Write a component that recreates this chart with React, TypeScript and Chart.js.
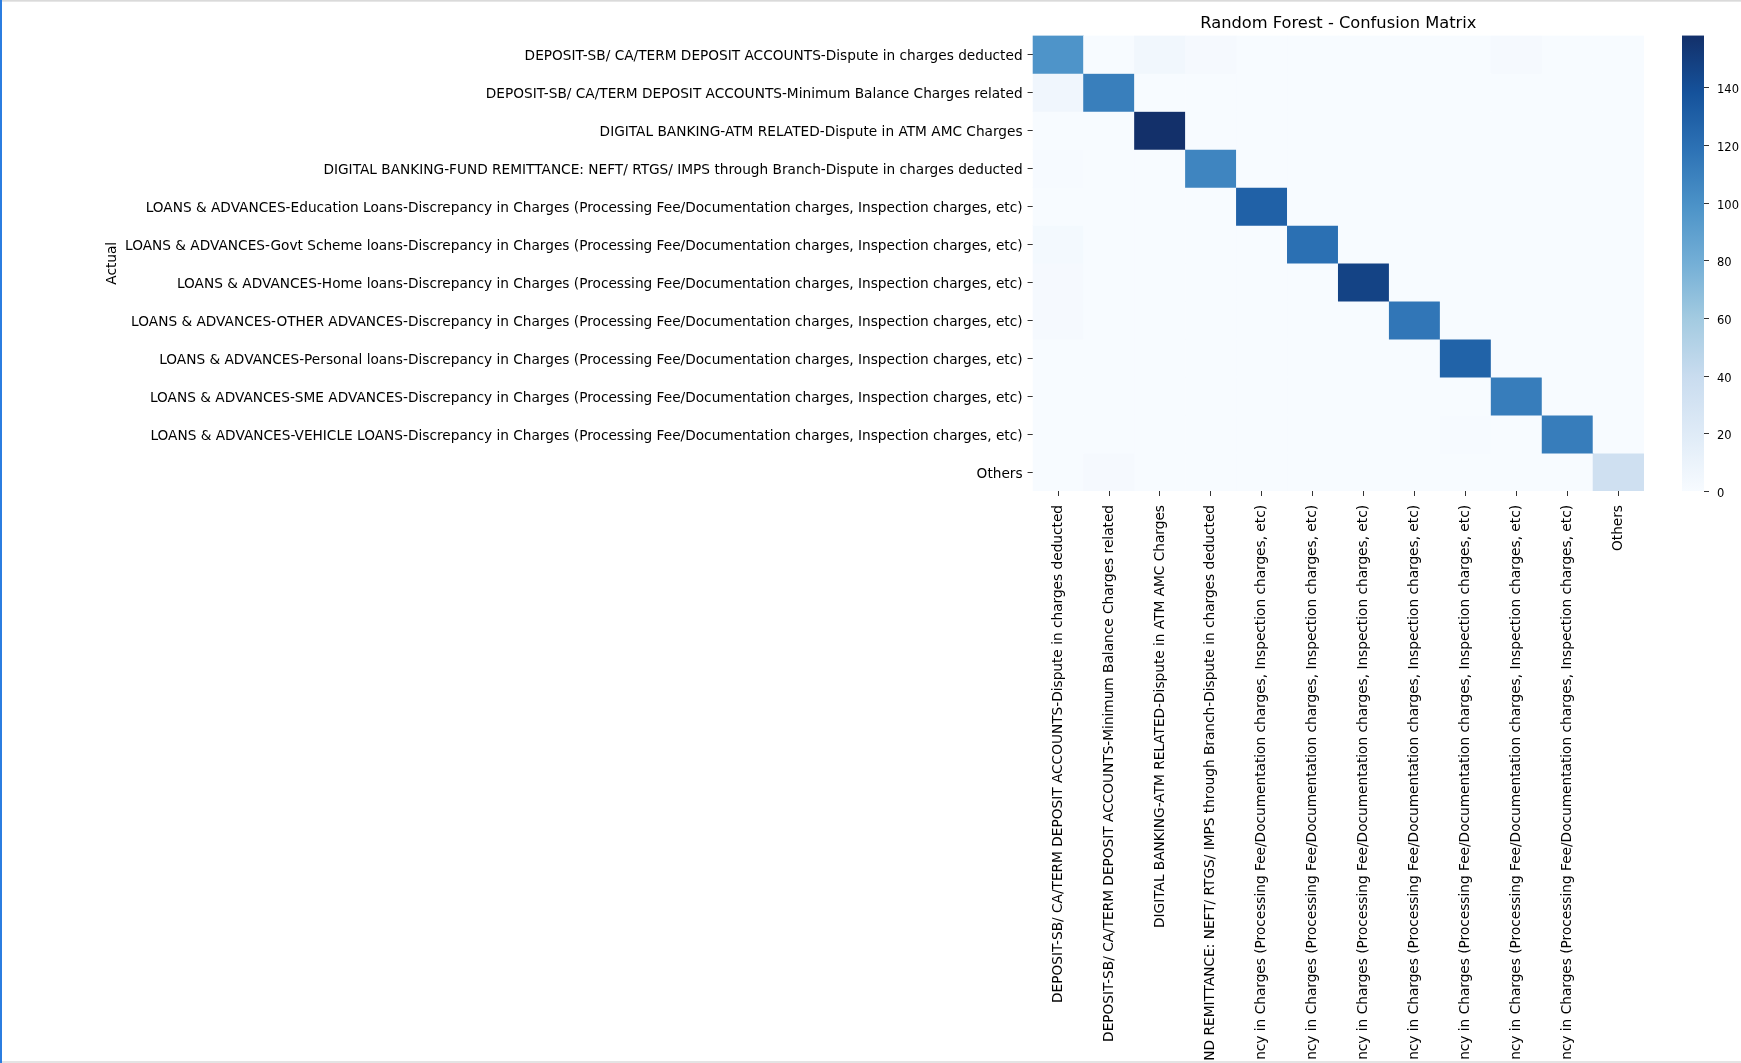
import React, { useEffect, useRef } from 'react';
import { Chart, registerables } from 'chart.js';

Chart.register(...registerables);

const classLabels = [
  'DEPOSIT-SB/ CA/TERM DEPOSIT ACCOUNTS-Dispute in charges deducted',
  'DEPOSIT-SB/ CA/TERM DEPOSIT ACCOUNTS-Minimum Balance Charges related',
  'DIGITAL BANKING-ATM RELATED-Dispute in ATM AMC Charges',
  'DIGITAL BANKING-FUND REMITTANCE: NEFT/ RTGS/ IMPS through Branch-Dispute in charges deducted',
  'LOANS & ADVANCES-Education Loans-Discrepancy in Charges (Processing Fee/Documentation charges, Inspection charges, etc)',
  'LOANS & ADVANCES-Govt Scheme loans-Discrepancy in Charges (Processing Fee/Documentation charges, Inspection charges, etc)',
  'LOANS & ADVANCES-Home loans-Discrepancy in Charges (Processing Fee/Documentation charges, Inspection charges, etc)',
  'LOANS & ADVANCES-OTHER ADVANCES-Discrepancy in Charges (Processing Fee/Documentation charges, Inspection charges, etc)',
  'LOANS & ADVANCES-Personal loans-Discrepancy in Charges (Processing Fee/Documentation charges, Inspection charges, etc)',
  'LOANS & ADVANCES-SME ADVANCES-Discrepancy in Charges (Processing Fee/Documentation charges, Inspection charges, etc)',
  'LOANS & ADVANCES-VEHICLE LOANS-Discrepancy in Charges (Processing Fee/Documentation charges, Inspection charges, etc)',
  'Others',
];

// Confusion-matrix rows (actual class), columns = predicted class
const rowDepositDispute = [98, 0, 5, 2, 0, 0, 0, 0, 0, 2, 0, 0];
const rowDepositMinBal = [6, 111, 0, 0, 0, 0, 0, 0, 0, 0, 0, 0];
const rowAtm = [0, 0, 158, 0, 0, 0, 0, 0, 0, 0, 0, 0];
const rowFundRemit = [1, 0, 0, 107, 0, 0, 0, 0, 0, 0, 0, 0];
const rowEducation = [0, 0, 0, 0, 129, 0, 0, 0, 0, 0, 0, 0];
const rowGovt = [3, 0, 0, 0, 0, 120, 0, 0, 0, 0, 0, 0];
const rowHome = [2, 0, 0, 0, 0, 0, 147, 0, 0, 0, 0, 0];
const rowOther = [2, 0, 0, 0, 0, 0, 0, 116, 0, 0, 0, 0];
const rowPersonal = [0, 0, 0, 0, 0, 0, 0, 0, 128, 0, 0, 0];
const rowSme = [0, 0, 0, 0, 0, 0, 0, 0, 0, 112, 0, 0];
const rowVehicle = [0, 0, 0, 0, 0, 0, 0, 0, 1, 0, 112, 0];
const rowOthers = [0, 2, 0, 0, 0, 0, 0, 0, 0, 0, 0, 34];

const matrixRows = [
  rowDepositDispute, rowDepositMinBal, rowAtm, rowFundRemit, rowEducation, rowGovt,
  rowHome, rowOther, rowPersonal, rowSme, rowVehicle, rowOthers,
];

const colorbarTicks = [0, 20, 40, 60, 80, 100, 120, 140];
const colorMax = 158;

const chartTitle = 'Random Forest - Confusion Matrix';
const yTitle = 'Actual';

// "Blues" colormap anchors (as rendered in the reference picture)
const BLUES = ['#f7fbff', '#dfebf7', '#c9dcef', '#a4cbe1', '#74afd6', '#4c93c8', '#2d72b5', '#15529b', '#13306a'];

function hexToRgb(h: string) {
  const n = parseInt(h.slice(1), 16);
  return [(n >> 16) & 255, (n >> 8) & 255, n & 255];
}

function blues(t: number) {
  const c = Math.max(0, Math.min(1, t)) * (BLUES.length - 1);
  const i = Math.min(Math.floor(c), BLUES.length - 2);
  const f = c - i;
  const a = hexToRgb(BLUES[i]);
  const b = hexToRgb(BLUES[i + 1]);
  const m = a.map((v, k) => Math.round(v + (b[k] - v) * f));
  return `rgb(${m[0]},${m[1]},${m[2]})`;
}

const FONT = 'DejaVu Sans';
const TEXT = '#000000';
const TICK = '#333333';
const LABEL_SIZE = 13.7;

const colorbarPlugin = {
  id: 'colorbar',
  afterDraw(chart: any) {
    const cb = chart.scales.cb;
    const ctx = chart.ctx;
    const x0 = chart.chartArea.right + 38;
    const w = 22;
    const yTop = cb.getPixelForValue(colorMax);
    const yBot = cb.getPixelForValue(0);
    const g = ctx.createLinearGradient(0, yBot, 0, yTop);
    BLUES.forEach((c, i) => g.addColorStop(i / (BLUES.length - 1), c));
    ctx.save();
    ctx.fillStyle = g;
    ctx.fillRect(x0, yTop, w, yBot - yTop);
    ctx.strokeStyle = TICK;
    ctx.lineWidth = 1;
    ctx.fillStyle = TEXT;
    ctx.font = `11.5px "${FONT}"`;
    ctx.textAlign = 'left';
    ctx.textBaseline = 'middle';
    cb.ticks.forEach((t: any) => {
      const yp = cb.getPixelForValue(t.value);
      const y = Math.round(yp) + 0.5;
      ctx.beginPath();
      ctx.moveTo(x0 + w, y);
      ctx.lineTo(x0 + w + 5, y);
      ctx.stroke();
      ctx.fillText(String(t.value), x0 + w + 13, yp + 3);
    });
    ctx.restore();
  },
};

export default function App() {
  const ref = useRef<HTMLCanvasElement | null>(null);

  useEffect(() => {
    if (!ref.current) return;
    const datasets = matrixRows.map((row, r) => ({
      label: classLabels[r],
      data: row.map(() => [r, r + 1]),
      backgroundColor: row.map((v) => blues(v / colorMax)),
      borderWidth: 0,
      grouped: false,
      barPercentage: 1,
      categoryPercentage: 1,
    }));

    const chart = new Chart(ref.current, {
      type: 'bar',
      data: { labels: classLabels, datasets: datasets as any },
      plugins: [colorbarPlugin],
      options: {
        responsive: false,
        animation: false,
        events: [],
        layout: { padding: 0, autoPadding: false },
        plugins: {
          legend: { display: false },
          tooltip: { enabled: false },
          title: {
            display: true,
            text: chartTitle,
            fullSize: false,
            color: TEXT,
            font: { family: FONT, size: 16.3, weight: 'normal' },
            padding: { top: 13.5, bottom: 2.5 },
          },
        },
        scales: {
          x: {
            type: 'category',
            position: 'bottom',
            offset: true,
            grid: { display: true, drawOnChartArea: false, drawTicks: true, tickLength: 5, color: TICK, offset: false },
            border: { display: false },
            ticks: {
              autoSkip: false,
              minRotation: 90,
              maxRotation: 90,
              padding: 9,
              color: TEXT,
              font: { family: FONT, size: LABEL_SIZE },
            },
            afterFit: (s: any) => { s.height = 1063 - 491; },
          },
          y: {
            type: 'linear',
            position: 'left',
            min: 0,
            max: 12,
            reverse: true,
            grid: { display: true, drawOnChartArea: false, drawTicks: true, tickLength: 5, color: TICK },
            border: { display: false },
            afterBuildTicks: (s: any) => { s.ticks = classLabels.map((_, i) => ({ value: i + 0.5 })); },
            ticks: {
              autoSkip: false,
              padding: 5,
              labelOffset: 2,
              color: TEXT,
              font: { family: FONT, size: LABEL_SIZE },
              callback: (v: any) => classLabels[Math.floor(Number(v))],
            },
            title: {
              display: true,
              text: yTitle,
              color: TEXT,
              font: { family: FONT, size: LABEL_SIZE },
              padding: { top: 103.8, bottom: 0 },
            },
            afterFit: (s: any) => { s.width = 1032.6; },
          },
          cb: {
            type: 'linear',
            position: 'right',
            axis: 'y',
            min: 0,
            max: colorMax,
            grid: { display: false },
            border: { display: false },
            afterBuildTicks: (s: any) => { s.ticks = colorbarTicks.map((v) => ({ value: v })); },
            ticks: { display: false, padding: 0 },
            afterFit: (s: any) => { s.width = 97; },
          },
        },
      } as any,
    });
    return () => chart.destroy();
  }, []);

  return (
    <div style={{ position: 'fixed', left: 0, top: 0, width: 1741, height: 1063, background: '#fff', overflow: 'hidden' }}>
      <canvas ref={ref} width={1741} height={1063} style={{ width: 1741, height: 1063, display: 'block' }} />
      <div style={{ position: 'absolute', left: 0, top: 0, width: 1741, height: 2, background: 'linear-gradient(#d4d4d4, #ececec)' }} />
      <div style={{ position: 'absolute', left: 0, top: 1061, width: 1741, height: 2, background: '#e4e4e4' }} />
      <div style={{ position: 'absolute', left: 0, top: 0, width: 2, height: 1063, background: '#2b7de0' }} />
    </div>
  );
}
